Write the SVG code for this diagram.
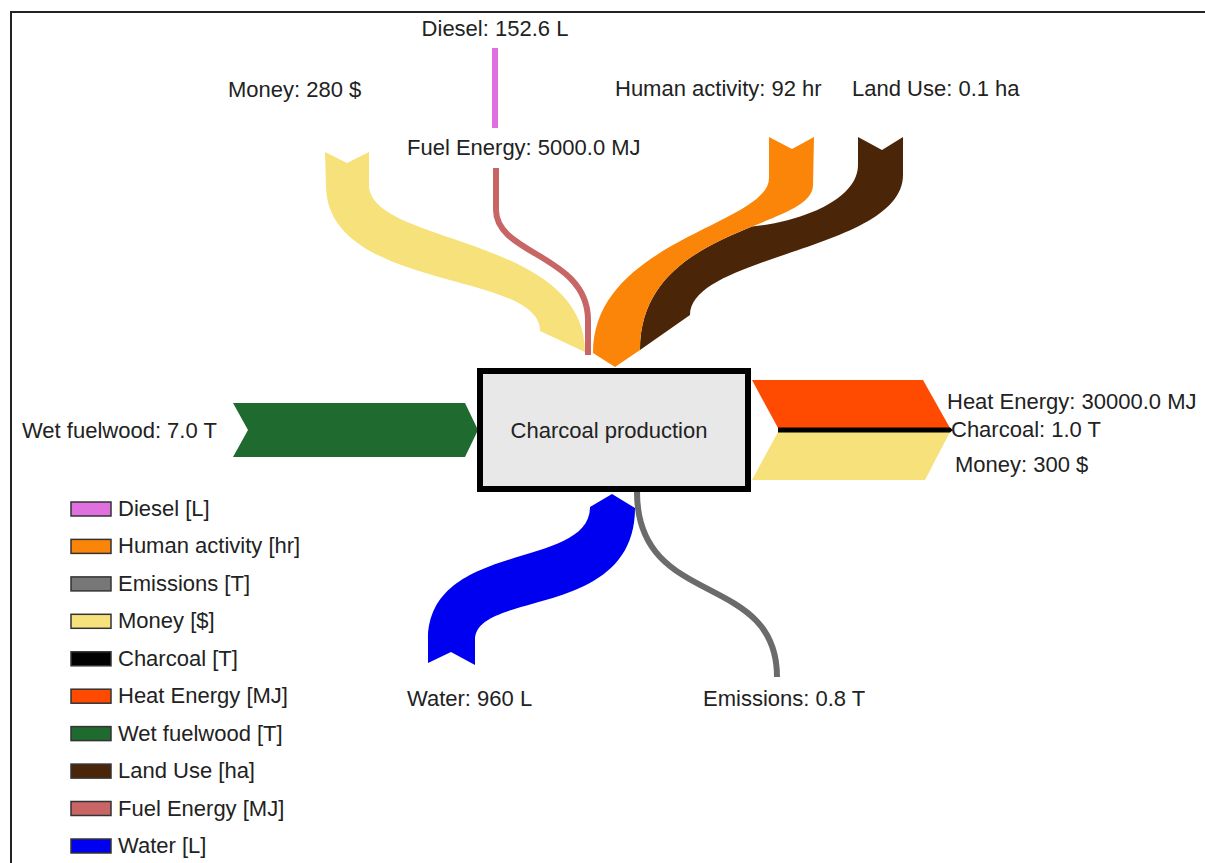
<svg xmlns="http://www.w3.org/2000/svg" width="1205" height="863" viewBox="0 0 1205 863">
  <style>
    text { font-family: "Liberation Sans", Arial, sans-serif; font-size: 22px; fill: #222; }
    .frame { fill: none; stroke: #222; stroke-width: 2; }
    .swatch { stroke: #333; stroke-width: 1.5; }
    .money { fill: #f6e17b; }
    .human { fill: #fb8508; }
    .land { fill: #4b2508; }
    .heat { fill: #ff4a02; }
    .wood { fill: #1f6a2e; }
    .water { fill: #0000f0; }
    .charcoal { fill: #000; }
    .diesel { fill: #e070e0; }
    .fuel { fill: #c86666; }
  </style>

  <rect width="1205" height="863" fill="#fff"/>
  <path class="frame" d="M11,863 V12 H1205"/>

  <!-- flows into and out of the process -->
  <g id="connectors">
    <!-- Money in (yellow band from the top left) -->
    <path class="money" d="M325,152 L347,163 L369,152 L369,185 C369,245 585,235 585,352 L540,331 C540,270 326,292 326,185 Z"/>
    <!-- Land Use in (drawn below the orange band) -->
    <path class="land" d="M858,137 L882,150 L903,137 L903,175 C903,250 690,255 690,315 L640,350 C640,275 702.3,246.8 752.1,226.5 C800,222 858,200 858,165 Z"/>
    <!-- Human activity in -->
    <path class="human" d="M769,137 L792,149 L814,137 L813,185 C813,230 640,225 640,350 L615,367 L593,353 C593,240 769,225 769,178 Z"/>
    <!-- Diesel (thin vertical bar) -->
    <rect class="diesel" x="492" y="48" width="6" height="80"/>
    <!-- Fuel Energy in (thin line) -->
    <path d="M496,168 V210 C496,255 588,255 588,320 V355" fill="none" stroke="#c86666" stroke-width="6"/>

    <!-- Wet fuelwood in -->
    <polygon class="wood" points="233,403 465,403 478,430 465,457 233,457 248,430"/>

    <!-- Outputs on the right: heat, charcoal, money -->
    <polygon class="heat" points="752,380 923,380 950,428 778,428"/>
    <polygon class="money" points="778,432 950,432 925,480 752,480"/>
    <polygon class="charcoal" points="778,427.5 950,427.5 953,430 950,432.5 778,432.5"/>

    <!-- Water out -->
    <path class="water" d="M590,507 L612,494 L635,508 C635,620 475,590 475,640 L475,665 L451,652 L428,663 L428,640 C428,540 590,570 590,507 Z"/>
    <!-- Emissions out -->
    <path d="M637,492 C637,610 777,570 777,677" fill="none" stroke="#6b6b6b" stroke-width="6"/>
  </g>

  <g id="process">
    <rect x="480" y="371" width="268" height="118" fill="#e8e8e8" stroke="#000" stroke-width="6"/>
    <text x="609" y="438" text-anchor="middle">Charcoal production</text>
  </g>

  <g id="labels">
    <text x="495" y="36" text-anchor="middle">Diesel: 152.6 L</text>
    <text x="228" y="97">Money: 280 $</text>
    <text x="407" y="155">Fuel Energy: 5000.0 MJ</text>
    <text x="615" y="96">Human activity: 92 hr</text>
    <text x="852" y="96">Land Use: 0.1 ha</text>
    <text x="22" y="438">Wet fuelwood: 7.0 T</text>
    <text x="947" y="409">Heat Energy: 30000.0 MJ</text>
    <text x="951" y="437">Charcoal: 1.0 T</text>
    <text x="955" y="472">Money: 300 $</text>
    <text x="407" y="706">Water: 960 L</text>
    <text x="703" y="706">Emissions: 0.8 T</text>
  </g>

  <g id="legend">
    <rect class="swatch diesel" x="71" y="502" width="40" height="14"/>
    <text x="118" y="516">Diesel [L]</text>
    <rect class="swatch human" x="71" y="539.4" width="40" height="14"/>
    <text x="118" y="553.4">Human activity [hr]</text>
    <rect class="swatch" fill="#777" x="71" y="576.9" width="40" height="14"/>
    <text x="118" y="590.9">Emissions [T]</text>
    <rect class="swatch money" x="71" y="614.3" width="40" height="14"/>
    <text x="118" y="628.3">Money [$]</text>
    <rect class="swatch charcoal" x="71" y="651.8" width="40" height="14"/>
    <text x="118" y="665.8">Charcoal [T]</text>
    <rect class="swatch heat" x="71" y="689.2" width="40" height="14"/>
    <text x="118" y="703.2">Heat Energy [MJ]</text>
    <rect class="swatch wood" x="71" y="726.6" width="40" height="14"/>
    <text x="118" y="740.6">Wet fuelwood [T]</text>
    <rect class="swatch land" x="71" y="764.1" width="40" height="14"/>
    <text x="118" y="778.1">Land Use [ha]</text>
    <rect class="swatch fuel" x="71" y="801.5" width="40" height="14"/>
    <text x="118" y="815.5">Fuel Energy [MJ]</text>
    <rect class="swatch water" x="71" y="839" width="40" height="14"/>
    <text x="118" y="853">Water [L]</text>
  </g>
</svg>
